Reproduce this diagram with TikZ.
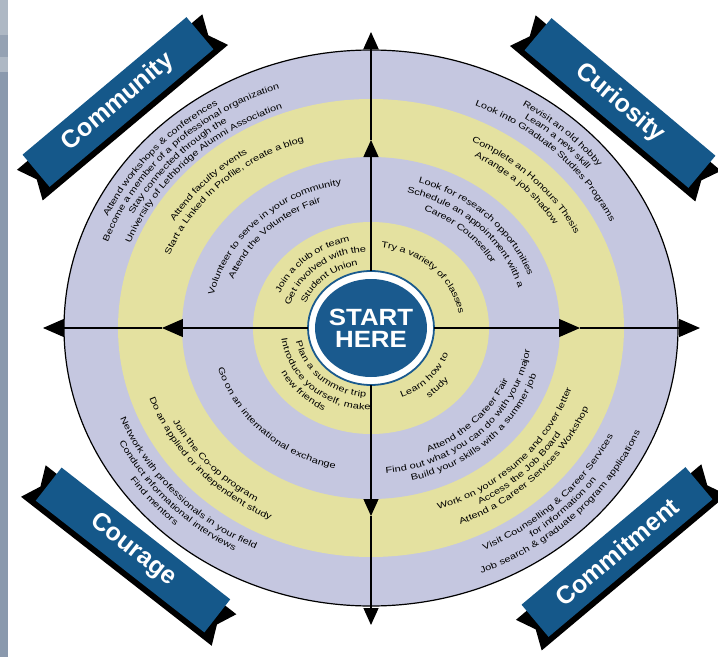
\documentclass[tikz,border=0pt]{standalone}
\usepackage{fontspec}
\setmainfont{Liberation Sans}
\newfontfamily\ringfont[FakeStretch=1.28]{Liberation Sans}
\newfontfamily\startfont[FakeStretch=1.1]{Liberation Sans}
\usetikzlibrary{arrows.meta,decorations.text,shapes.geometric}

\definecolor{ringlav}{HTML}{C5C7E0}
\definecolor{ringyel}{HTML}{E4E1A0}
\definecolor{bannerblue}{HTML}{15588A}
\definecolor{startblue}{HTML}{1A5A8E}
\definecolor{stripgray}{HTML}{8A99AD}
\definecolor{striplight}{HTML}{AEB8C4}
\definecolor{stripmid}{HTML}{95A2B3}

\def\ringtxt{\ringfont\fontsize{8.6}{10}\selectfont}

% text on an upper arc, read clockwise: radius factor, mid angle, text
\newcommand\uptext[3]{%
  \pgfmathsetmacro\lrx{#1*307}\pgfmathsetmacro\lry{#1*278}%
  \pgfmathsetmacro\sp{min(85,32/#1)}%
  \pgfmathsetmacro\la{#2+\sp}\pgfmathsetmacro\lb{#2-\sp}%
  \path[decorate,decoration={text along path,text align=center,raise=-2.8pt,
      text={|\ringtxt|#3}}]
    (\la:\lrx pt and \lry pt) arc[start angle=\la,end angle=\lb,x radius=\lrx pt,y radius=\lry pt];}
% same on a lower arc, read counter clockwise
\newcommand\downtext[3]{%
  \pgfmathsetmacro\lrx{#1*307}\pgfmathsetmacro\lry{#1*278}%
  \pgfmathsetmacro\sp{min(85,32/#1)}%
  \pgfmathsetmacro\la{#2-\sp}\pgfmathsetmacro\lb{#2+\sp}%
  \path[decorate,decoration={text along path,text align=center,raise=-2.8pt,
      text={|\ringtxt|#3}}]
    (\la:\lrx pt and \lry pt) arc[start angle=\la,end angle=\lb,x radius=\lrx pt,y radius=\lry pt];}

% ribbon with notched black tails
\newcommand\banner[4]{%
  \begin{scope}[shift={#2},rotate=#3]
    \fill (-121,-27) -- (121,-27) -- (112,-7) -- (121,13) -- (-121,13) -- (-112,-7) -- cycle;
    \fill[bannerblue] (-107,-21) rectangle (107,21);
    \node[banner text,rotate=#3] (#1) at (0,0) {#4};
  \end{scope}}

\tikzset{
  axis line/.style={line width=1.3pt},
  vtip/.style={-{Triangle[length=17pt,width=15pt]}},
  htip/.style={-{Triangle[length=21pt,width=18pt]}},
  banner text/.style={text=white,font=\fontsize{25}{25}\selectfont\bfseries},
  start/.style={ellipse,minimum width=126pt,minimum height=114pt,inner sep=0pt,
    align=center,text=white,font=\startfont\fontsize{23.5}{22}\selectfont\bfseries}
}

\begin{document}
\begin{tikzpicture}[x=1pt,y=1pt]
  \useasboundingbox (-371,-329) rectangle (347,328);
  % strip at the left edge
  \fill[stripgray] (-371,-329) rectangle (-363,328);
  \fill[striplight] (-371,328) rectangle (-363,293);
  \fill[stripmid] (-371,293) rectangle (-363,271);
  \fill[striplight] (-371,271) rectangle (-363,256);

  % bands
  \filldraw[fill=ringlav,line width=1.2pt] (0,0) ellipse [x radius=307pt,y radius=278pt];
  \fill[ringyel] (0,0) ellipse [x radius=253pt,y radius=229pt];
  \fill[ringlav] (0,0) ellipse [x radius=189pt,y radius=171pt];
  \fill[ringyel] (0,0) ellipse [x radius=118pt,y radius=106pt];

  % hub
  \filldraw[fill=white,draw=startblue,line width=1.8pt] (0,0) ellipse [x radius=63pt,y radius=57pt];
  \fill[startblue] (0,0) ellipse [x radius=56pt,y radius=49pt];
  \node[start] (start) at (0,0) {START\\HERE};

  % axes
  \coordinate (n-in) at (0,188);   \coordinate (n-out) at (0,296);
  \coordinate (s-in) at (0,-188);  \coordinate (s-out) at (0,-297);
  \coordinate (w-in) at (-209,0);  \coordinate (w-out) at (-328,0);
  \coordinate (e-in) at (209,0);   \coordinate (e-out) at (329,0);
  \foreach \d in {n,s}{
    \draw[axis line,vtip] (start) -- (\d-in);
    \draw[axis line,vtip] (\d-in) -- (\d-out);
  }
  \foreach \d in {w,e}{
    \draw[axis line,htip] (start) -- (\d-in);
    \draw[axis line,htip] (\d-in) -- (\d-out);
  }

  % community
  \uptext{.955}{139}{Attend workshops {\&} conferences}
  \uptext{.92}{135}{Become a member of a professional organization}
  \uptext{.885}{138}{Stay connected through the}
  \uptext{.85}{135}{University of Lethbridge Alumni Association}
  \uptext{.755}{137}{Attend faculty events}
  \uptext{.715}{134}{Start a Linked In Profile, create a blog}
  \uptext{.535}{135}{Volunteer to serve in your community}
  \uptext{.49}{136}{Attend the Volunteer Fair}
  \uptext{.33}{132}{Join a club or team}
  \uptext{.285}{130}{Get involved with the}
  \uptext{.24}{131}{Student Union}

  % curiosity
  \uptext{.95}{47.5}{Revisit an old hobby}
  \uptext{.915}{47}{Learn a new skill}
  \uptext{.878}{46}{Look into Graduate Studies Programs}
  \uptext{.755}{44.5}{Complete an Honours Thesis}
  \uptext{.712}{45.5}{Arrange a job shadow}
  \uptext{.555}{45.5}{Look for research opportunities}
  \uptext{.51}{45}{Schedule an appointment with a}
  \uptext{.465}{47}{Career Counsellor}
  \uptext{.30}{45}{Try a variety of classes}

  % courage
  \downtext{.24}{227}{Plan a summer trip}
  \downtext{.285}{227}{Introduce yourself, make}
  \downtext{.325}{223}{new friends}
  \downtext{.51}{225}{Go on an international exchange}
  \downtext{.718}{222}{Join the Co{‐}op program}
  \downtext{.755}{221}{Do an applied or independent study}
  \downtext{.87}{222.5}{Network with professionals in your field}
  \downtext{.908}{223}{Conduct informational interviews}
  \downtext{.945}{220.5}{Find mentors}

  % commitment
  \downtext{.26}{318}{Learn how to}
  \downtext{.305}{318}{study}
  \downtext{.475}{317}{Attend the Career Fair}
  \downtext{.515}{314.5}{Find out what you can do with your major}
  \downtext{.555}{314.5}{Build your skills with a summer job}
  \downtext{.68}{316}{Work on your resume and cover letter}
  \downtext{.717}{315}{Access the Job Board}
  \downtext{.755}{316}{Attend a Career Services Workshop}
  \downtext{.87}{315}{Visit Counselling {\&} Career Services}
  \downtext{.907}{315}{for information on}
  \downtext{.944}{315}{Job search {\&} graduate program applications}

  % ribbons
  \banner{community}{(-253,226)}{40}{Community}
  \banner{curiosity}{(249,225)}{-40}{Curiosity}
  \banner{courage}{(-238,-222)}{-38}{Courage}
  \banner{commitment}{(246,-224)}{40}{Commitment}
\end{tikzpicture}
\end{document}
